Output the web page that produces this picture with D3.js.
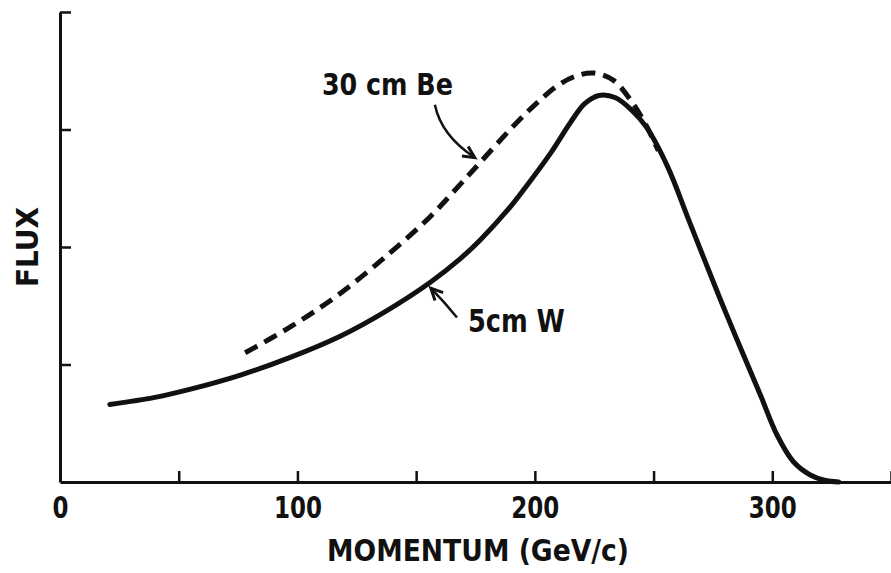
<!DOCTYPE html>
<meta charset="utf-8">
<head>
  <title>Flux vs momentum</title>
  <script src="https://cdnjs.cloudflare.com/ajax/libs/d3/7.8.5/d3.min.js"></script>
  <style>
    body { margin: 0; background: #fff; }
    text { font-family: "DejaVu Sans Condensed", "DejaVu Sans", sans-serif; font-weight: bold; fill: #111; }
  </style>
</head>
<body>
<div id="chart"></div>
<script>
  var WIDTH = 891
  var HEIGHT = 573

  // 5 cm W target (solid)
  var solidMomentum = [21, 40, 55, 76, 97, 118, 137, 156, 168, 177, 190, 198, 207, 215, 221, 227, 234, 241, 247, 256, 265, 278, 286, 295, 302, 309, 316, 322, 328]
  var solidFlux     = [0.66, 0.72, 0.79, 0.91, 1.06, 1.24, 1.45, 1.70, 1.89, 2.06, 2.35, 2.56, 2.81, 3.06, 3.22, 3.29, 3.27, 3.16, 3.02, 2.68, 2.22, 1.56, 1.17, 0.74, 0.40, 0.17, 0.06, 0.015, 0.0]

  // 30 cm Be target (dashed)
  var dashMomentum = [78, 97, 117, 139, 156, 168, 177, 191, 200, 210, 218, 225, 233, 241, 247, 252]
  var dashFlux     = [1.10, 1.32, 1.59, 1.95, 2.26, 2.52, 2.72, 3.03, 3.21, 3.38, 3.46, 3.48, 3.42, 3.23, 3.03, 2.82]

  var xTicks = [0, 50, 100, 150, 200, 250, 300, 350]
  var xLabels = [0, 100, 200, 300]
  var yTicks = [1, 2, 3, 4]

  var svg = d3.select("#chart").append("svg")
    .attr("width", WIDTH)
    .attr("height", HEIGHT)

  var x = d3.scaleLinear().domain([0, 350]).range([60, 891])
  var y = d3.scaleLinear().domain([0, 4]).range([482, 12])

  var xAxis = d3.axisBottom(x)
    .tickValues(xTicks)
    .tickSizeInner(-11)
    .tickSizeOuter(0)
    .tickPadding(15)
    .tickFormat(function(d) { return xLabels.indexOf(d) >= 0 ? d : "" })

  var gx = svg.append("g")
    .attr("transform", "translate(0," + y(0) + ")")
    .call(xAxis)
  gx.select(".domain").attr("stroke", "#111").attr("stroke-width", 3)
  gx.selectAll(".tick line").attr("stroke", "#111").attr("stroke-width", 2.5)
  gx.selectAll(".tick text")
    .style("font-size", "30px")
    .attr("fill", "#111")
    .each(function(d) {
      if (xLabels.indexOf(d) >= 0) d3.select(this).attr("textLength", String(d).length * 16).attr("lengthAdjust", "spacingAndGlyphs")
    })

  var yAxis = d3.axisLeft(y)
    .tickValues(yTicks)
    .tickSizeInner(-11)
    .tickSizeOuter(0)
    .tickFormat("")

  var gy = svg.append("g")
    .attr("transform", "translate(" + x(0) + ",0)")
    .call(yAxis)
  gy.select(".domain").attr("stroke", "#111").attr("stroke-width", 3)
  gy.selectAll(".tick line").attr("stroke", "#111").attr("stroke-width", 2.5)

  var line = d3.line()
    .x(function(d) { return x(d[0]) })
    .y(function(d) { return y(d[1]) })
    .curve(d3.curveCatmullRom.alpha(0.5))

  var solid = d3.zip(solidMomentum, solidFlux)
  var dashed = d3.zip(dashMomentum, dashFlux)

  svg.append("path")
    .datum(dashed)
    .attr("d", line)
    .attr("fill", "none")
    .attr("stroke", "#111")
    .attr("stroke-width", 5)
    .attr("stroke-dasharray", "14,8")

  svg.append("path")
    .datum(solid)
    .attr("d", line)
    .attr("fill", "none")
    .attr("stroke", "#111")
    .attr("stroke-width", 5)
    .attr("stroke-linecap", "round")

  // labels and arrows
  svg.append("text")
    .attr("x", x(110.3))
    .attr("y", y(3.29))
    .attr("textLength", 131)
    .attr("lengthAdjust", "spacingAndGlyphs")
    .style("font-size", "31px")
    .text("30 cm Be")

  svg.append("text")
    .attr("x", x(171.8))
    .attr("y", y(1.28))
    .attr("textLength", 97)
    .attr("lengthAdjust", "spacingAndGlyphs")
    .style("font-size", "32px")
    .text("5cm W")

  function arrow(from, ctrl, to) {
    var x0 = x(from[0]), y0 = y(from[1]), x1 = x(to[0]), y1 = y(to[1])
    var cx = x(ctrl[0]), cy = y(ctrl[1])
    svg.append("path")
      .attr("d", "M" + x0 + "," + y0 + "Q" + cx + "," + cy + " " + x1 + "," + y1)
      .attr("fill", "none").attr("stroke", "#111").attr("stroke-width", 2.5)
    var a = Math.atan2(y1 - cy, x1 - cx)
    var L = 13, s = 0.45
    svg.append("path")
      .attr("d", "M" + (x1 - L * Math.cos(a - s)) + "," + (y1 - L * Math.sin(a - s)) +
        "L" + x1 + "," + y1 +
        "L" + (x1 - L * Math.cos(a + s)) + "," + (y1 - L * Math.sin(a + s)))
      .attr("fill", "none").attr("stroke", "#111").attr("stroke-width", 3)
      .attr("stroke-linejoin", "miter")
  }

  arrow([157.9, 3.21], [160.5, 2.95], [174.7, 2.76])
  arrow([167.2, 1.40], [162, 1.53], [156.2, 1.65])

  svg.append("text")
    .attr("transform", "translate(38," + y(2.0) + ") rotate(-90)")
    .attr("text-anchor", "middle")
    .attr("textLength", 80)
    .attr("lengthAdjust", "spacingAndGlyphs")
    .style("font-size", "30px")
    .text("FLUX")

  svg.append("text")
    .attr("x", 327)
    .attr("y", 561)
    .attr("textLength", 302)
    .attr("lengthAdjust", "spacingAndGlyphs")
    .style("font-size", "30px")
    .text("MOMENTUM (GeV/c)")
</script>
</body>
